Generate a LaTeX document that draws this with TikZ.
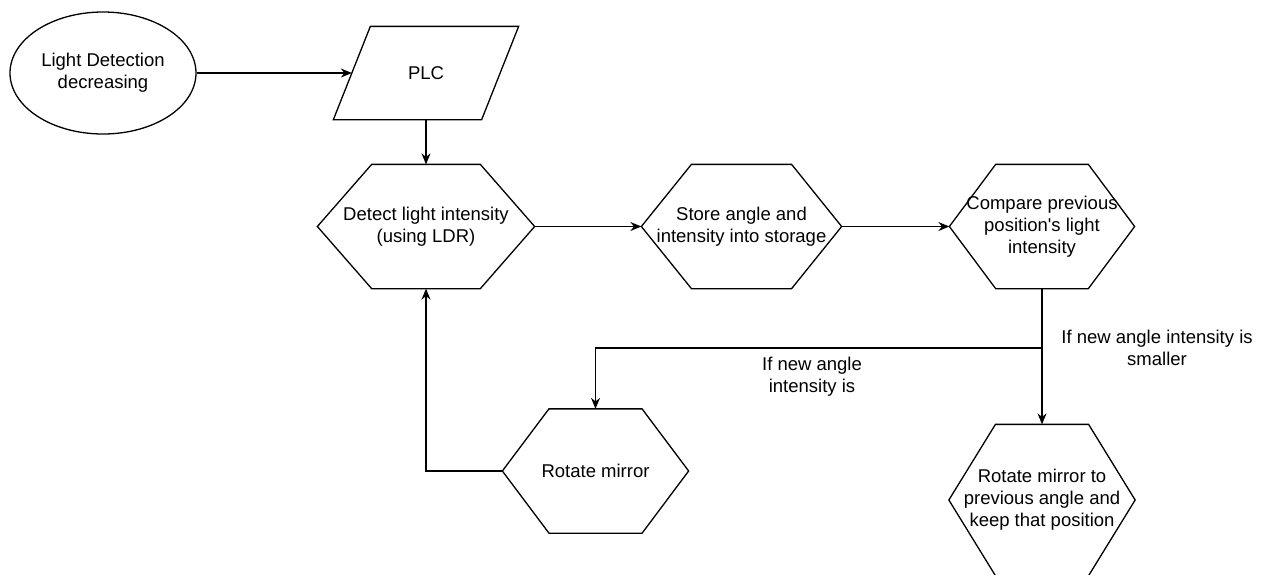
\documentclass[tikz,border=0pt]{standalone}
\usepackage{fontspec}
\setmainfont{Liberation Sans}
\usetikzlibrary{arrows.meta,calc,shapes.geometric}

\newcommand\flowfont{\fontsize{18.5}{22}\selectfont}
% hexagon outline round a plain node, slant = quarter of the width
\newcommand\hexpath[1]{%
  \draw (#1.west) -- ($(#1.north west)!.25!(#1.north east)$)
    -- ($(#1.north west)!.75!(#1.north east)$) -- (#1.east)
    -- ($(#1.south west)!.75!(#1.south east)$)
    -- ($(#1.south west)!.25!(#1.south east)$) -- cycle;}

\begin{document}
\begin{tikzpicture}[
  x=1pt, y=-1pt, line width=1.3pt,
  >={Stealth[length=11pt,width=9pt]},
  box/.style={inner sep=0pt, align=center, font=\flowfont},
  hexbox/.style={box, minimum width=#1, minimum height=123pt},
  flow/.style={->},
  note/.style={align=center, font=\flowfont},
]
\useasboundingbox (0,0) rectangle (1265,574);

\node[box, ellipse, draw, minimum width=186pt, minimum height=122pt] (light) at (103,73) {Light Detection\\decreasing};
\node[box, minimum width=184pt, minimum height=92pt] (plc) at (426,73) {PLC};
\draw (plc.south west) -- ([xshift=37pt]plc.north west) -- (plc.north east) -- ([xshift=-37pt]plc.south east) -- cycle;

\node[hexbox=216pt] (detect) at (426,226.5) {Detect light intensity\\(using LDR)};
\node[hexbox=199pt] (store) at (741.5,226.5) {Store angle and\\intensity into storage};
\node[hexbox=184pt] (compare) at (1042,226.5) {Compare previous\\position\textquotesingle s light\\intensity};
\node[hexbox=185pt] (rotate) at (595.5,471) {Rotate mirror};
\node[hexbox=185pt, minimum height=150pt] (restore) at (1042,500) {Rotate mirror to\\previous angle and\\keep that position};
\foreach \n in {detect,store,compare,rotate,restore} \hexpath{\n};

\draw[flow] (light.east) -- ([xshift=18.5pt]plc.west);
\draw[flow] (plc.south) -- (detect.north);
\draw[flow] (detect.east) -- (store.west);
\draw[flow] (store.east) -- (compare.west);
\draw[flow] (compare.south) -- (restore.north);
\coordinate (split) at (1042,348);
\draw[flow] (split) -| (rotate.north);
\draw[flow] (rotate.west) -| (detect.south);

\node[note] (smaller) at (1157,347.5) {If new angle intensity is\\smaller};
\node[note] (larger) at (812,377) {If new angle\\intensity is};
\end{tikzpicture}
\end{document}
